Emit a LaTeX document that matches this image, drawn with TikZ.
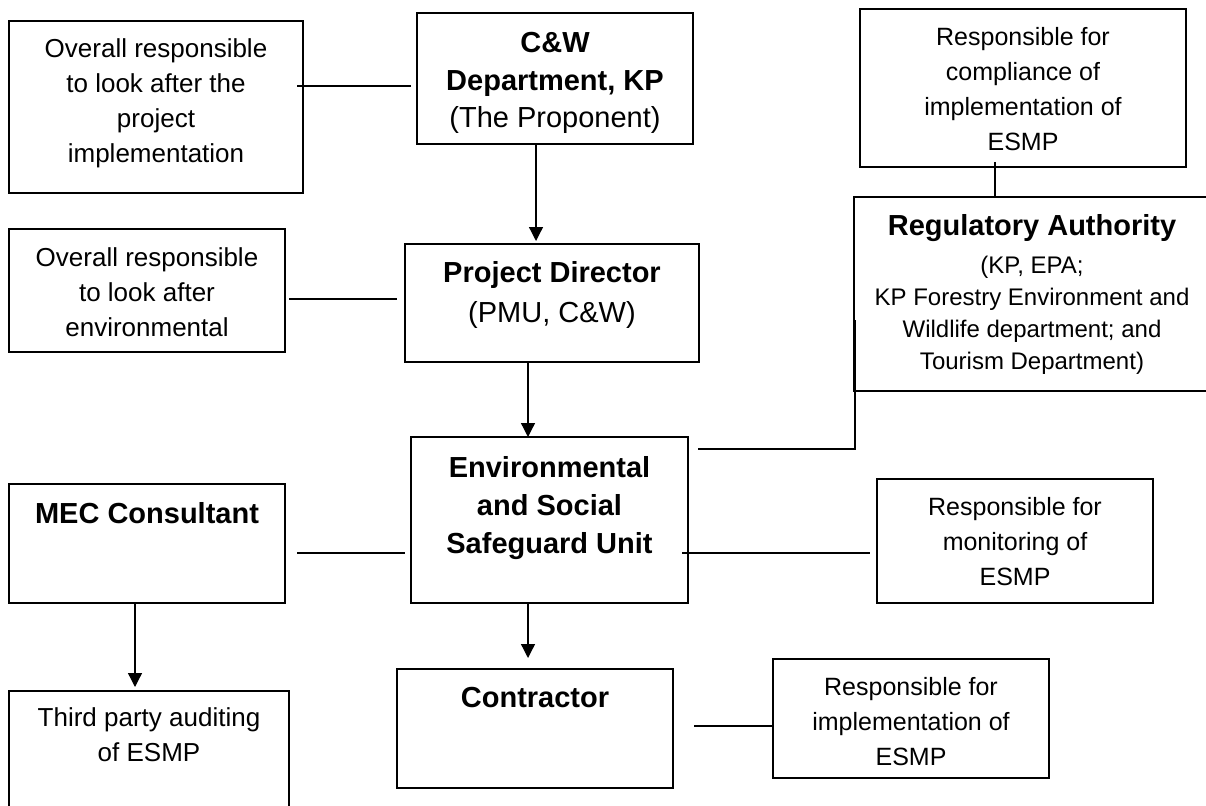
\documentclass[tikz,border=0pt]{standalone}
\usepackage{fontspec}
\setmainfont{Liberation Sans}
\usepackage{tikz}
\usetikzlibrary{arrows.meta}
\tikzset{>={Triangle[width=14pt,length=14pt]}}
\tikzset{
	box/.style={draw, line width=1.3pt, inner sep=0pt, outer sep=0pt},
	txt/.style={align=center, inner sep=0pt, font=\fontsize{26}{35}\selectfont},
	rsp/.style={txt, font=\fontsize{25}{35}\selectfont},
	hd/.style={txt, font=\fontsize{29}{38}\selectfont\bfseries},
	link/.style={line width=1.3pt}
}

\begin{document}
\begin{tikzpicture}[x=1pt, y=-1pt]
	\useasboundingbox (0,0) rectangle (1206,805);
	% boxes, left column
	\node[box, minimum width=294pt, minimum height=172pt] (look) at (156,107) {};
	\node[txt] (look-txt) at (156,103) {Overall responsible\\to look after the\\project\\implementation};
	\node[box, minimum width=276pt, minimum height=123pt] (env) at (147,290.5) {};
	\node[txt] (env-txt) at (147,292) {Overall responsible\\to look after\\environmental};
	\node[box, minimum width=276pt, minimum height=119pt] (mec) at (147,543.5) {};
	\node[hd] (mec-txt) at (147,513) {MEC Consultant};
	\node[box, minimum width=280pt, minimum height=120pt] (third) at (149,751) {};
	\node[txt] (third-txt) at (149,735) {Third party auditing\\of ESMP};
	% boxes, middle column
	\node[box, minimum width=276pt, minimum height=131pt] (cw) at (555,78.5) {};
	\node[txt, font=\fontsize{29}{37.5}\selectfont] (cw-txt) at (555,83) {\textbf{C\&W}\\\textbf{Department, KP}\\(The Proponent)};
	\node[box, minimum width=294pt, minimum height=118pt] (pd) at (552,303) {};
	\node[txt, font=\fontsize{29}{40}\selectfont] (pd-txt) at (552,295) {\textbf{Project Director}\\(PMU, C\&W)};
	\node[box, minimum width=277pt, minimum height=166pt] (essu) at (549.5,520) {};
	\node[hd] (essu-txt) at (549.5,508) {Environmental\\and Social\\Safeguard Unit};
	\node[box, minimum width=276pt, minimum height=119pt] (ctr) at (535,728.5) {};
	\node[hd] (ctr-txt) at (535,698) {Contractor};
	% boxes, right column
	\node[box, minimum width=326pt, minimum height=158pt] (comp) at (1023,88) {};
	\node[rsp] (comp-txt) at (1023,89.5) {Responsible for\\compliance of\\implementation of\\ESMP};
	\node[box, minimum width=356pt, minimum height=194pt] (reg) at (1032,294) {};
	\node[txt, font=\fontsize{24}{32}\selectfont] (reg-txt) at (1032,294) {{\fontsize{29}{32}\selectfont\bfseries Regulatory Authority}\\[6pt](KP, EPA;\\KP Forestry Environment and\\Wildlife department; and\\Tourism Department)};
	\node[box, minimum width=276pt, minimum height=124pt] (mon) at (1015,541) {};
	\node[rsp] (mon-txt) at (1015,542) {Responsible for\\monitoring of\\ESMP};
	\node[box, minimum width=276pt, minimum height=119pt] (impl) at (911,718.5) {};
	\node[rsp] (impl-txt) at (911,721.5) {Responsible for\\implementation of\\ESMP};

	% plain links
	\draw[link, shorten <=-6pt, shorten >=6pt] ([yshift=-7.5pt]cw.west -| look.east) -- ([yshift=-7.5pt]cw.west);
	\draw[link, shorten <=4pt, shorten >=8pt] ([yshift=4pt]pd.west -| env.east) -- ([yshift=4pt]pd.west);
	\draw[link, shorten <=12pt, shorten >=6pt] ([yshift=-33pt]essu.west -| mec.east) -- ([yshift=-33pt]essu.west);
	\draw[link, shorten <=-6pt, shorten >=7pt] ([yshift=-33pt]essu.east) -- ([yshift=-33pt]essu.east -| mon.west);
	\draw[link, shorten <=10pt] ([yshift=71pt]essu.east) -| ([xshift=1pt, yshift=-26pt]reg.west);
	\draw[link, shorten <=-5pt] ([xshift=-28pt]comp.south) -- ([xshift=-28pt]comp.south |- reg.north);
	\draw[link, shorten <=21pt] ([yshift=2.5pt]ctr.east) -- ([yshift=2.5pt]ctr.east -| impl.west);

	% arrows down
	\draw[link, ->, shorten >=3pt] ([xshift=-19pt]cw.south) -- ([xshift=-19pt]cw.south |- pd.north);
	\draw[link, ->] ([xshift=-24pt]pd.south) -- ([xshift=-24pt]pd.south |- essu.north);
	\draw[link, ->, shorten >=11pt] ([xshift=-21.5pt]essu.south) -- ([xshift=-21.5pt]essu.south |- ctr.north);
	\draw[link, ->, shorten >=4pt] ([xshift=-12pt]mec.south) -- ([xshift=-12pt]mec.south |- third.north);
\end{tikzpicture}
\end{document}
